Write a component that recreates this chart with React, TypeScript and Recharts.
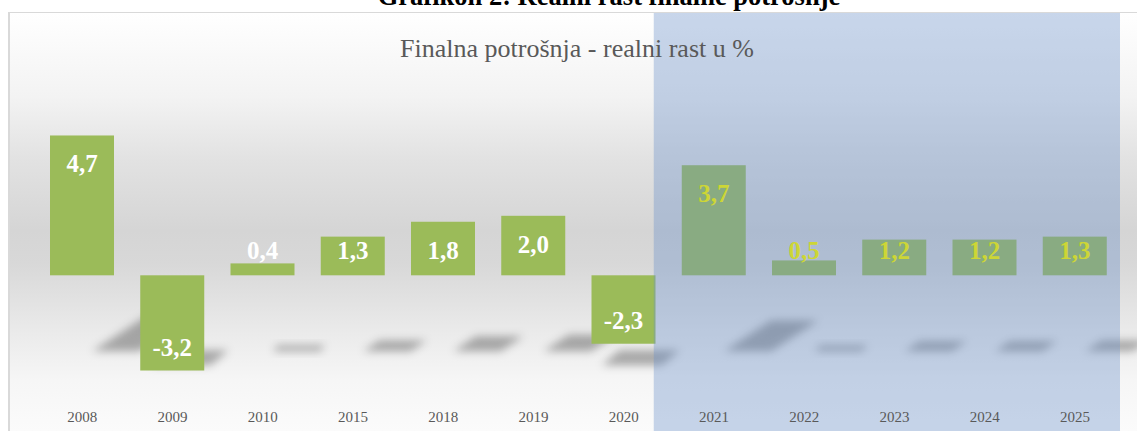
import React from 'react';
import { BarChart, Bar, XAxis, YAxis, ReferenceArea, LabelList } from 'recharts';

const years = ['2008', '2009', '2010', '2015', '2018', '2019', '2020', '2021', '2022', '2023', '2024', '2025'];
const growth = [4.7, -3.2, 0.4, 1.3, 1.8, 2.0, -2.3, 3.7, 0.5, 1.2, 1.2, 1.3];
const forecastYears = ['2021', '2022', '2023', '2024', '2025'];

const pageTitle = 'Grafikon 2: Realni rast finalne potrošnje';
const chartTitle = 'Finalna potrošnja - realni rast u %';

const data = years.map((y, i) => ({ year: y, v: growth[i] }));

const FONT = '"Liberation Serif", "Times New Roman", serif';
const AXIS_H = 30;

const BarWithShadow = (props: any) => {
  const { x, y, width, height, payload } = props;
  const v = payload.v;
  const top = Math.min(y, y + height);
  const h = Math.abs(height);
  const zeroY = v >= 0 ? top + h : top;
  const floor = zeroY + 73;
  let pts = '';
  if (v >= 0) {
    const sx = x + 0.66 * width;
    const sw = 0.74 * width;
    const t = Math.max(6, v * 8.3);
    const s = v * 12.7;
    pts = `${sx},${floor + 3} ${sx + sw},${floor + 3} ${sx + sw + s},${floor + 3 - t} ${sx + s},${floor + 3 - t}`;
  } else {
    pts = `${x + 0.16 * width},${floor + 17} ${x + 1.1 * width},${floor + 17} ${x + 1.38 * width},${floor + 2} ${x + 0.44 * width},${floor + 2}`;
  }
  return (
    <g>
      <defs>
        <filter id="shadowBlur" x="-50%" y="-100%" width="200%" height="300%">
          <feGaussianBlur stdDeviation="4.5" />
        </filter>
      </defs>
      <polygon points={pts} fill="rgba(0,0,0,0.3)" filter="url(#shadowBlur)" />
      <rect x={x} y={top} width={width} height={h} fill="#9BBB59" />
    </g>
  );
};

const renderLabel = (props: any) => {
  const { x, y, width, height, value, index } = props;
  const top = Math.min(y, y + height);
  const h = Math.abs(height);
  let cy: number;
  if (value >= 0) {
    const zeroY = top + h;
    cy = h >= 56 ? top + 28 : zeroY - 25;
  } else {
    cy = top + h - 23;
  }
  const isForecast = forecastYears.includes(years[index]);
  return (
    <text
      x={x + width / 2}
      y={cy}
      dy="0.35em"
      textAnchor="middle"
      fontFamily={FONT}
      fontWeight="bold"
      fontSize={25}
      fill={isForecast ? '#cdd635' : '#ffffff'}
    >
      {Number(value).toFixed(1).replace('.', ',')}
    </text>
  );
};

export default function App() {
  return (
    <div style={{ position: 'absolute', left: 0, top: 0, width: 1137, height: 431, overflow: 'hidden', background: '#fff' }}>
      <div
        style={{
          position: 'absolute',
          left: 8,
          top: 12,
          width: 1129,
          height: 419,
          boxSizing: 'border-box',
          borderTop: '1px solid #d9d9d9',
          borderLeft: '2px solid #d9d9d9',
          background:
            'linear-gradient(to bottom, #ffffff 0%, #f3f3f3 20%, #e2e2e2 35%, #d5d5d5 52%, #d8d8d8 60%, #e9e9e9 75%, #f6f6f6 88%, #fbfbfb 100%)',
        }}
      />
      <div style={{ position: 'absolute', left: 8, top: 12 }}>
        <BarChart width={1129} height={419} data={data} margin={{ top: 1, right: 17, left: 29, bottom: 0 }}>
          <XAxis
            dataKey="year"
            height={AXIS_H}
            axisLine={false}
            tickLine={false}
            interval={0}
            tickMargin={4}
            tick={{ fill: '#595959', fontSize: 15, fontFamily: FONT }}
          />
          <XAxis dataKey="year" xAxisId="lab" hide />
          <YAxis hide domain={[-4.225, 8.817]} allowDataOverflow />
          <Bar dataKey="v" barSize={64} shape={<BarWithShadow />} isAnimationActive={false} zIndex={300} />
          <ReferenceArea
            x1="2021"
            x2="2025"
            zIndex={400}
            shape={(p: any) => (
              <rect
                x={p.x - 15}
                y={p.y}
                width={p.width + 15}
                height={p.height + AXIS_H}
                fill="rgb(106,144,201)"
                fillOpacity={0.37}
              />
            )}
          />
          <Bar dataKey="v" xAxisId="lab" barSize={64} fill="none" isAnimationActive={false} zIndex={500}>
            <LabelList dataKey="v" content={renderLabel} />
          </Bar>
        </BarChart>
      </div>
      <div
        style={{
          position: 'absolute',
          left: 0,
          width: 1218,
          top: -19,
          textAlign: 'center',
          fontFamily: FONT,
          fontWeight: 'bold',
          fontSize: 26.5,
          lineHeight: '30px',
          color: '#000',
          whiteSpace: 'nowrap',
        }}
      >
        {pageTitle}
      </div>
      <div
        style={{
          position: 'absolute',
          left: 0,
          width: 1154,
          top: 34,
          textAlign: 'center',
          fontFamily: FONT,
          fontSize: 26,
          lineHeight: '30px',
          color: '#595959',
          whiteSpace: 'nowrap',
        }}
      >
        {chartTitle}
      </div>
    </div>
  );
}
